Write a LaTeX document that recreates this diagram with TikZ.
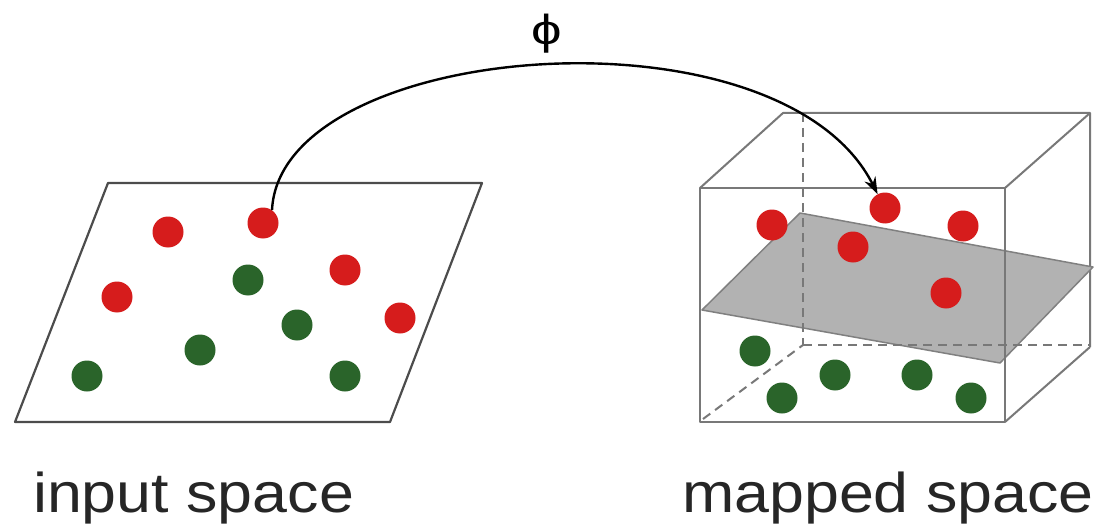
\documentclass[tikz,border=0pt]{standalone}
\usepackage{fontspec}
\setmainfont{Liberation Sans}
\newfontfamily\capfont[FakeStretch=1.12]{Liberation Sans}
\newfontfamily\phifont[FakeStretch=1.3]{Liberation Sans}
\usetikzlibrary{arrows.meta}
\definecolor{dotred}{RGB}{214,28,28}
\definecolor{dotgreen}{RGB}{42,100,42}
\definecolor{planegray}{RGB}{178,178,178}
\definecolor{boxgray}{RGB}{120,120,120}
\begin{document}
\begin{tikzpicture}[x=1pt,y=-1pt,
  rdot/.style={circle,fill=dotred,draw=none,minimum size=31pt,inner sep=0pt},
  gdot/.style={circle,fill=dotgreen,draw=none,minimum size=31pt,inner sep=0pt},
  planeedge/.style={draw=black!70,line width=2.2pt,line join=round},
  boxedge/.style={draw=boxgray,line width=2pt,line join=round},
  boxhidden/.style={draw=boxgray,line width=2pt,dash pattern=on 9pt off 6pt},
  sheet/.style={fill=planegray,draw=black!50,line width=1.5pt,line join=round},
  maparrow/.style={draw=black,line width=2.4pt,-{Stealth[length=17pt,width=12pt]}},
  caption/.style={font=\capfont\fontsize{56}{62}\selectfont,text=black!85,inner sep=0pt,anchor=base west}
]
\useasboundingbox (0,0) rectangle (1103,524);
\fill[white] (0,0) rectangle (1103,524);

% input space sheet
\draw[planeedge] (108,183) -- (482,183) -- (390,422) -- (15,422) -- cycle;

% mapped space box: back edges
\draw[boxedge] (700,188) -- (783,113) -- (1090,113) -- (1090,347);
\draw[boxedge] (1005,188) -- (1090,113);
\draw[boxedge] (1005,422) -- (1090,347);

% separating plane
\draw[sheet] (702,310) -- (800,213) -- (1093,267) -- (1000,363) -- cycle;

% hidden edges
\draw[boxhidden] (803,113) -- (803,345);
\draw[boxhidden] (803,345) -- (1090,345);
\draw[boxhidden] (703,419) -- (803,345);

% front face
\draw[boxedge] (700,188) rectangle (1005,422);

% input space points
\node[rdot] (l1) at (168,232) {};
\node[rdot] (l2) at (263,223) {};
\node[rdot] (l3) at (117,297) {};
\node[rdot] (l4) at (345,270) {};
\node[rdot] (l5) at (400,318) {};
\node[gdot] (l6) at (248,280) {};
\node[gdot] (l7) at (297,325) {};
\node[gdot] (l8) at (200,350) {};
\node[gdot] (l9) at (87,376) {};
\node[gdot] (l10) at (345,376) {};

% mapped space points
\node[rdot] (m1) at (772,225) {};
\node[rdot] (m2) at (885,208) {};
\node[rdot] (m3) at (963,226) {};
\node[rdot] (m4) at (853,247) {};
\node[rdot] (m5) at (946,293) {};
\node[gdot] (m6) at (755,351) {};
\node[gdot] (m7) at (835,375) {};
\node[gdot] (m8) at (917,375) {};
\node[gdot] (m9) at (782,398) {};
\node[gdot] (m10) at (971,398) {};

% mapping arrow
\draw[maparrow] (l2.55) .. controls (280,40) and (780,0) .. (m2.118);
\node[font=\phifont\fontsize{42}{46}\selectfont,inner sep=0pt] (phi) at (547,34) {ϕ};

% captions
\node[caption] (inlab) at (33,512) {input space};
\node[caption] (maplab) at (682,512) {mapped space};
\end{tikzpicture}
\end{document}
